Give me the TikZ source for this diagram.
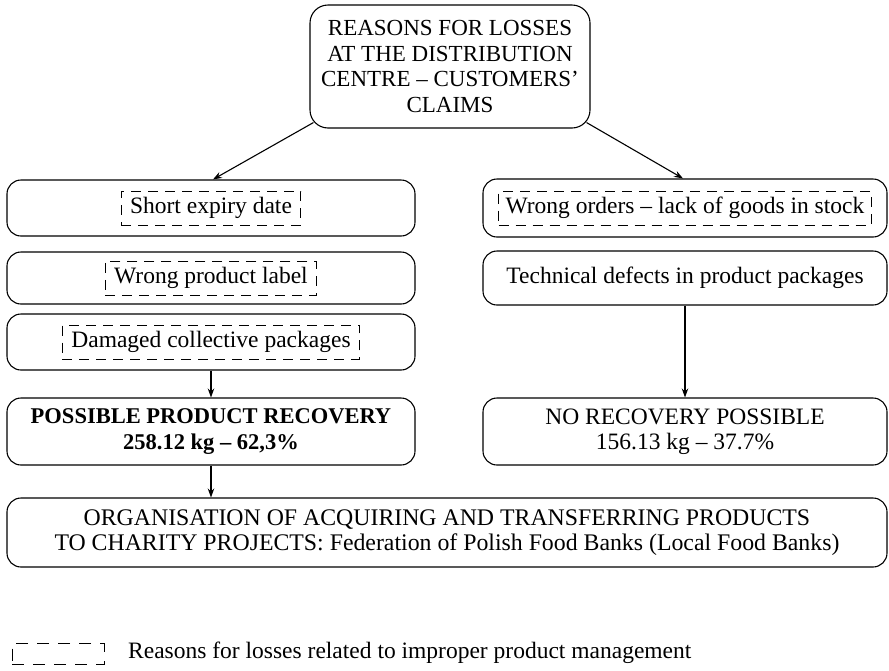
\documentclass[tikz,border=0pt]{standalone}
\usepackage{fontspec}
\setmainfont{Liberation Serif}
\usetikzlibrary{arrows.meta,calc}
\begin{document}
\begin{tikzpicture}[x=1pt,y=-1pt,
  font=\fontsize{23.5}{25.5}\selectfont,
  box/.style={draw,rounded corners=14pt,line width=1.1pt,align=center,inner sep=0pt},
  dbox/.style={draw,dash pattern=on 10pt off 7pt,line width=1pt,inner xsep=9pt,inner ysep=0pt,minimum height=34pt},
  arr/.style={-{Stealth[length=9pt,width=6.5pt]},line width=1.1pt}
]
\useasboundingbox (0,0) rectangle (889,670);
% top
\node[box,rounded corners=18pt,minimum width=280pt,minimum height=123pt,font=\fontsize{23}{25.5}\selectfont] (top) at (450,66.5)
  {REASONS FOR LOSSES\\AT THE DISTRIBUTION\\CENTRE – CUSTOMERS’\\CLAIMS};
% left column
\node[box,minimum width=408pt,minimum height=56pt] (a1) at (211,208) {};
\node[dbox] (a1t) at (a1) {Short expiry date};
\node[box,minimum width=408pt,minimum height=52pt] (a2) at (211,278) {};
\node[dbox] (a2t) at (a2) {Wrong product label};
\node[box,minimum width=408pt,minimum height=56pt] (a3) at (211,342) {};
\node[dbox] (a3t) at (a3) {Damaged collective packages};
% right column
\node[box,minimum width=404pt,minimum height=58pt] (b1) at (685,208) {};
\node[dbox,inner xsep=7pt] (b1t) at (b1) {Wrong orders – lack of goods in stock};
\node[box,minimum width=404pt,minimum height=54pt] (b2) at (685,278) {Technical defects in product packages};
% results
\node[box,minimum width=408pt,minimum height=67pt,font=\fontsize{22.5}{25.5}\selectfont] (r1) at (211,431.5)
  {\bfseries POSSIBLE PRODUCT RECOVERY\\\bfseries 258.12 kg – 62,3\%};
\node[box,minimum width=404pt,minimum height=67pt] (r2) at (685,431.5)
  {NO RECOVERY POSSIBLE\\156.13 kg – 37.7\%};
% bottom
\node[box,minimum width=880pt,minimum height=69pt,font=\fontsize{23.8}{25.5}\selectfont] (bot) at (447,532.5)
  {ORGANISATION OF ACQUIRING AND TRANSFERRING PRODUCTS\\TO CHARITY PROJECTS: Federation of Polish Food Banks (Local Food Banks)};
% legend
\node[draw,dash pattern=on 12pt off 9pt,line width=1pt,minimum width=92pt,minimum height=21pt,inner sep=0pt] (leg) at (58,654) {};
\node[anchor=west,inner sep=0pt] (legt) at (128,653) {Reasons for losses related to improper product management};
% connectors
\draw[arr] ([xshift=4pt,yshift=6pt]top.south west) -- ([xshift=2pt]a1.north);
\draw[arr] ([xshift=-4pt,yshift=6pt]top.south east) -- ([xshift=-2pt]b1.north);
\draw[arr] (a3.south) -- (r1.north);
\draw[arr] (b2.south) -- (r2.north);
\draw[arr] (r1.south) -- (r1.south |- bot.north);
\end{tikzpicture}
\end{document}
